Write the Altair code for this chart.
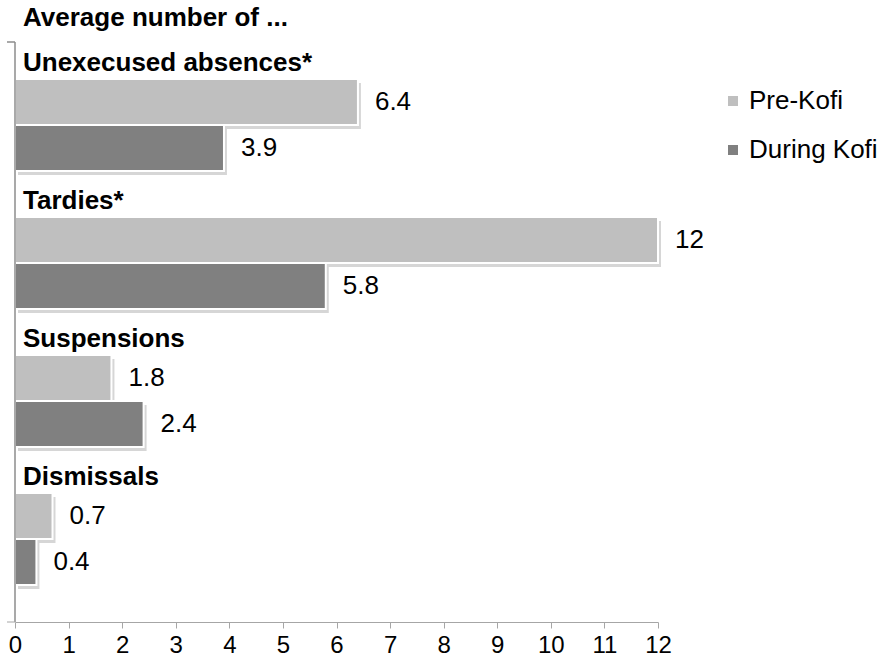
import altair as alt
import pandas as pd

categories = ["Unexecused absences*", "Tardies*", "Suspensions", "Dismissals"]
series = ["Pre-Kofi", "During Kofi"]
pre_kofi = [6.4, 12, 1.8, 0.7]
during_kofi = [3.9, 5.8, 2.4, 0.4]
x_ticks = list(range(0, 13))
title_text = "Average number of ..."
colors = ["#BFBFBF", "#808080"]

FONT = "Liberation Sans"

rows = []
for c in categories:
    rows.append(c + "|label")
    for s in series:
        rows.append(c + "|" + s)

bar_records = []
for i, c in enumerate(categories):
    for s, vals in zip(series, [pre_kofi, during_kofi]):
        v = vals[i]
        bar_records.append({"row": c + "|" + s, "value": v, "series": s, "txt": f"{v:g}"})
bars_df = pd.DataFrame(bar_records)
cat_df = pd.DataFrame({"row": [c + "|label" for c in categories], "cat": categories})
title_df = pd.DataFrame({"t": [title_text]})

W, H = 643, 580
yscale = alt.Scale(domain=rows, range=[-9, 543], paddingInner=0, paddingOuter=0)
xscale = alt.Scale(domain=[0, 12], nice=False, zero=True)
xaxis = alt.Axis(values=x_ticks, tickSize=6, labelFontSize=24, labelPadding=5, labelFont=FONT,
                 labelColor="#000000", domainColor="#A6A6A6", tickColor="#A6A6A6",
                 grid=False, title=None, labelFlush=False, labelOverlap=False)

base = alt.Chart(bars_df)

shadow = base.mark_bar(color="#000000", opacity=0.16, xOffset=3, yOffset=4).encode(
    x=alt.X("value:Q", scale=xscale, axis=xaxis),
    y=alt.Y("row:N", scale=yscale, axis=None),
)

bars = base.mark_bar(stroke="white", strokeWidth=2).encode(
    x=alt.X("value:Q", scale=xscale, axis=xaxis),
    y=alt.Y("row:N", scale=yscale, axis=None),
    color=alt.Color("series:N", scale=alt.Scale(domain=series, range=colors),
                    legend=alt.Legend(title=None, orient="none", legendX=705, legendY=46,
                                      symbolType="square", symbolSize=100, symbolStrokeWidth=0,
                                      labelFontSize=26, labelFont=FONT, labelColor="#000000",
                                      labelOffset=3, rowPadding=23, padding=0)),
)

values = base.mark_text(align="left", baseline="middle", dx=17, fontSize=26, font=FONT,
                        color="#000000").encode(
    x=alt.X("value:Q", scale=xscale, axis=xaxis),
    y=alt.Y("row:N", scale=yscale, axis=None),
    text="txt:N",
)

cat_labels = alt.Chart(cat_df).mark_text(align="left", baseline="alphabetic", dy=15, fontSize=26,
                                         fontWeight="bold", font=FONT, color="#000000").encode(
    x=alt.value(8),
    y=alt.Y("row:N", scale=yscale, axis=None),
    text="cat:N",
)

title = alt.Chart(title_df).mark_text(align="left", baseline="alphabetic", fontSize=26,
                                      fontWeight="bold", font=FONT, color="#000000").encode(
    x=alt.value(8), y=alt.value(-16), text="t:N"
)

yline = alt.Chart(title_df).mark_rule(color="#8C8C8C", strokeWidth=1.5).encode(
    x=alt.value(0), y=alt.value(0), y2=alt.value(H)
)
top_tick = alt.Chart(title_df).mark_rule(color="#8C8C8C", strokeWidth=1.5).encode(
    x=alt.value(-8), x2=alt.value(0), y=alt.value(0)
)
bottom_tick = alt.Chart(title_df).mark_rule(color="#A6A6A6", strokeWidth=1).encode(
    x=alt.value(-8), x2=alt.value(0), y=alt.value(H)
)

chart = alt.layer(shadow, bars, values, cat_labels, title, yline, top_tick, bottom_tick).properties(
    width=W, height=H,
    background="white",
    autosize=alt.AutoSizeParams(type="none"),
    padding={"left": 15, "top": 42, "right": 221, "bottom": 40},
).configure_view(strokeWidth=0, stroke=None)

chart.save("out.html", embed_options={"renderer": "svg", "actions": False})
